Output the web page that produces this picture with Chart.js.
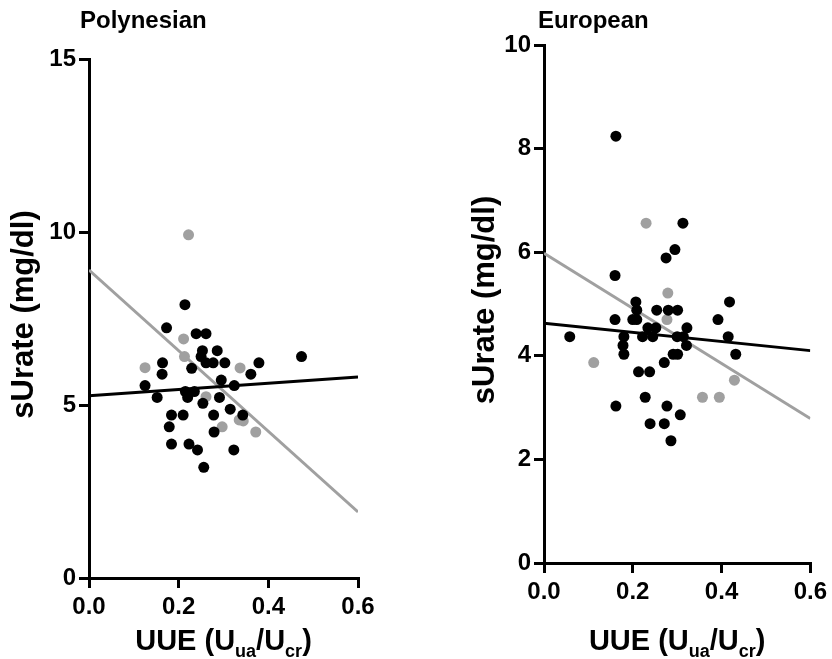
<!DOCTYPE html>
<html>
<head>
<meta charset="utf-8">
<script src="https://cdn.jsdelivr.net/npm/chart.js@4/dist/chart.umd.min.js"></script>
<style>
  html, body { margin: 0; padding: 0; background: #fff; }
  #wrap { position: relative; width: 832px; height: 659px; overflow: hidden; }
  canvas { position: absolute; top: 0; }
</style>
</head>
<body>
<div id="wrap">
  <canvas id="left" width="416" height="659" style="left:0"></canvas>
  <canvas id="right" width="416" height="659" style="left:416px"></canvas>
</div>
<script>
// ---- Data ----
const panelTitles = ["Polynesian", "European"];
const yAxisTitle = "sUrate (mg/dl)";
const xTitleParts = [["UUE (U", false], ["ua", true], ["/U", false], ["cr", true], [")", false]];
const xTicks = [0.0, 0.2, 0.4, 0.6];
const polyYTicks = [0, 5, 10, 15];
const euroYTicks = [0, 2, 4, 6, 8, 10];

const polyBlack = [
  [0.214,7.90],[0.173,7.23],[0.239,7.06],[0.261,7.06],[0.253,6.57],[0.286,6.57],[0.250,6.40],
  [0.261,6.22],[0.277,6.22],[0.303,6.22],[0.164,6.22],[0.379,6.22],[0.474,6.40],[0.229,6.06],
  [0.163,5.89],[0.361,5.89],[0.295,5.72],[0.125,5.56],[0.324,5.56],[0.215,5.39],[0.235,5.39],
  [0.220,5.22],[0.152,5.22],[0.291,5.22],[0.254,5.05],[0.315,4.88],[0.184,4.71],[0.210,4.71],
  [0.278,4.71],[0.343,4.71],[0.179,4.37],[0.279,4.22],[0.184,3.87],[0.223,3.87],[0.242,3.70],
  [0.323,3.70],[0.256,3.20]
];
const polyGray = [
  [0.222,9.92],[0.125,6.08],[0.211,6.91],[0.213,6.40],[0.337,6.07],[0.261,5.24],[0.297,4.37],
  [0.335,4.57],[0.344,4.54],[0.372,4.22]
];
const polyBlackFit = [[0, 5.27], [0.6, 5.81]];
const polyGrayFit = [[0, 8.90], [0.6, 1.91]];

const euroBlack = [
  [0.162,8.24],[0.313,6.56],[0.295,6.05],[0.275,5.89],[0.160,5.55],[0.207,5.04],[0.418,5.04],
  [0.209,4.88],[0.254,4.88],[0.280,4.88],[0.301,4.88],[0.160,4.70],[0.200,4.70],[0.209,4.70],
  [0.392,4.70],[0.234,4.54],[0.252,4.54],[0.322,4.54],[0.180,4.37],[0.222,4.37],[0.245,4.37],
  [0.300,4.37],[0.314,4.37],[0.415,4.37],[0.058,4.37],[0.178,4.20],[0.321,4.20],[0.180,4.03],
  [0.291,4.03],[0.301,4.03],[0.432,4.03],[0.271,3.87],[0.213,3.69],[0.238,3.69],[0.228,3.20],
  [0.162,3.03],[0.277,3.03],[0.307,2.86],[0.239,2.69],[0.271,2.69],[0.286,2.36]
];
const euroGray = [
  [0.230,6.56],[0.279,5.21],[0.277,4.70],[0.112,3.87],[0.357,3.20],[0.395,3.20],[0.429,3.53]
];
const euroBlackFit = [[0, 4.63], [0.6, 4.10]];
const euroGrayFit = [[0, 5.98], [0.6, 2.79]];

// ---- Styling ----
const FONT = "'Liberation Sans', Arial, Helvetica, sans-serif";
const BLACK = "#000000";
const GRAY = "#a0a0a0";
const toPts = arr => arr.map(p => ({ x: p[0], y: p[1] }));

function makePanel(canvasId, cfg) {
  const textPlugin = {
    id: 'panelText',
    afterDraw(chart) {
      const ctx = chart.ctx;
      const area = chart.chartArea;
      ctx.save();
      ctx.fillStyle = BLACK;
      // panel title
      ctx.font = "bold 24px " + FONT;
      ctx.textAlign = 'left';
      ctx.textBaseline = 'alphabetic';
      ctx.fillText(cfg.title, cfg.titleX, 28);
      // y-axis title (rotated)
      ctx.save();
      ctx.translate(cfg.yTitleX, (area.top + area.bottom) / 2 - 4);
      ctx.rotate(-Math.PI / 2);
      ctx.font = "bold 31px " + FONT;
      ctx.textAlign = 'center';
      ctx.textBaseline = 'middle';
      ctx.fillText(yAxisTitle, 0, 0);
      ctx.restore();
      // x-axis title with subscripts
      const mainFont = "bold 29px " + FONT;
      const subFont = "bold 18px " + FONT;
      let total = 0;
      xTitleParts.forEach(([t, sub]) => { ctx.font = sub ? subFont : mainFont; total += ctx.measureText(t).width; });
      let x = (area.left + area.right) / 2 - total / 2;
      ctx.textAlign = 'left';
      ctx.textBaseline = 'alphabetic';
      xTitleParts.forEach(([t, sub]) => {
        ctx.font = sub ? subFont : mainFont;
        ctx.fillText(t, x, sub ? 657 : 650);
        x += ctx.measureText(t).width;
      });
      ctx.restore();
    }
  };

  const tickFont = { family: FONT, size: 24, weight: 'bold' };
  const gridCfg = {
    display: true, drawOnChartArea: false, drawTicks: true,
    tickLength: 10, tickWidth: 3, tickColor: BLACK, color: BLACK, lineWidth: 3
  };

  return new Chart(document.getElementById(canvasId), {
    type: 'scatter',
    data: {
      datasets: [
        { type: 'scatter', data: toPts(cfg.black), backgroundColor: BLACK, borderColor: BLACK,
          pointRadius: 5.5, pointBorderWidth: 0, order: 0 },
        { type: 'scatter', data: toPts(cfg.gray), backgroundColor: GRAY, borderColor: GRAY,
          pointRadius: 5.5, pointBorderWidth: 0, order: 1 },
        { type: 'line', data: toPts(cfg.blackFit), borderColor: BLACK, borderWidth: 3,
          pointRadius: 0, fill: false, order: 2 },
        { type: 'line', data: toPts(cfg.grayFit), borderColor: GRAY, borderWidth: 3,
          pointRadius: 0, fill: false, order: 3 }
      ]
    },
    options: {
      responsive: false,
      animation: false,
      events: [],
      layout: { padding: { top: cfg.padTop, right: cfg.padRight, bottom: 0, left: 0 } },
      plugins: { legend: { display: false }, tooltip: { enabled: false }, title: { display: false } },
      scales: {
        x: {
          type: 'linear', min: 0, max: 0.6,
          afterBuildTicks: s => { s.ticks = xTicks.map(v => ({ value: v })); },
          ticks: { font: tickFont, color: BLACK, padding: 5, callback: v => Number(v).toFixed(1) },
          border: { display: true, width: 3, color: BLACK },
          grid: gridCfg,
          afterFit: s => { s.height = cfg.xHeight; }
        },
        y: {
          type: 'linear', min: 0, max: cfg.yMax,
          afterBuildTicks: s => { s.ticks = cfg.yTicks.map(v => ({ value: v })); },
          ticks: { font: tickFont, color: BLACK, padding: 3, callback: v => String(v) },
          border: { display: true, width: 3, color: BLACK },
          grid: gridCfg,
          afterFit: s => { s.width = cfg.yWidth; }
        }
      }
    },
    plugins: [textPlugin]
  });
}

makePanel('left', {
  title: panelTitles[0], titleX: 80, yTitleX: 24,
  black: polyBlack, gray: polyGray, blackFit: polyBlackFit, grayFit: polyGrayFit,
  yMax: 15, yTicks: polyYTicks,
  padTop: 59, padRight: 58, yWidth: 89, xHeight: 81
});
makePanel('right', {
  title: panelTitles[1], titleX: 122, yTitleX: 69,
  black: euroBlack, gray: euroGray, blackFit: euroBlackFit, grayFit: euroGrayFit,
  yMax: 10, yTicks: euroYTicks,
  padTop: 45, padRight: 20, yWidth: 128, xHeight: 96
});
</script>
</body>
</html>
